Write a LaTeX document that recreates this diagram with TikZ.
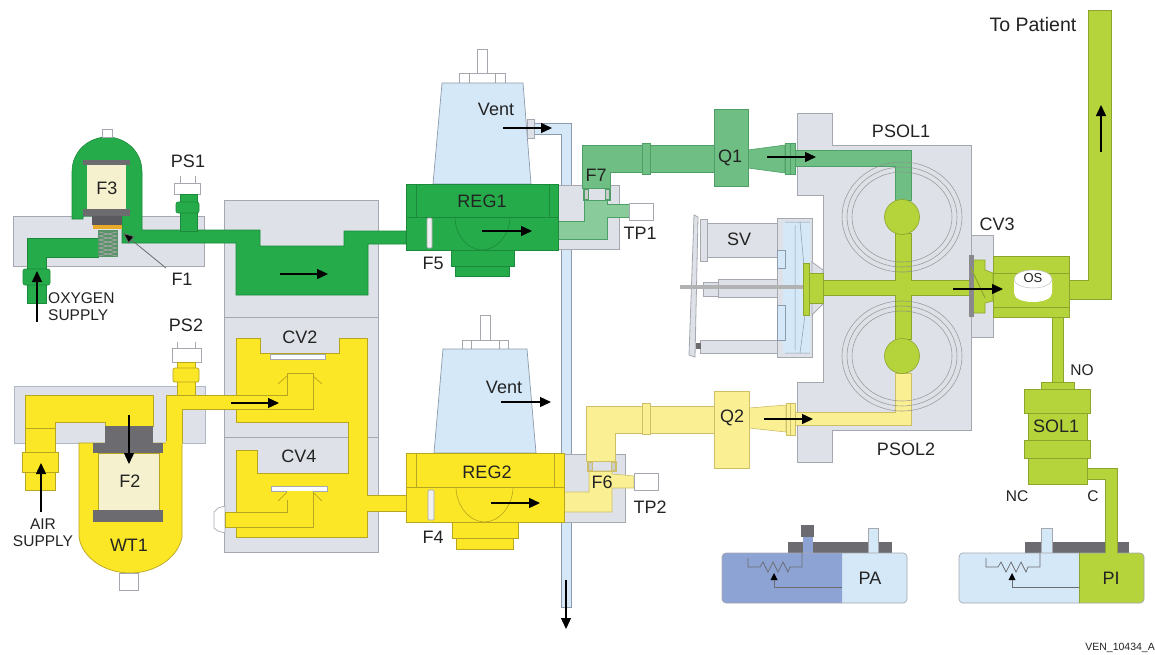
\documentclass[tikz,border=0pt]{standalone}
\usepackage{fontspec}
\setmainfont{Liberation Sans}
\usetikzlibrary{arrows.meta}
\definecolor{grayF}{HTML}{DFE1E8}
\definecolor{grayE}{HTML}{A6A8B0}
\definecolor{gD}{HTML}{25AB4A}
\definecolor{gDE}{HTML}{1B8A3A}
\definecolor{gM}{HTML}{6FBF84}
\definecolor{gME}{HTML}{4E9F66}
\definecolor{gP}{HTML}{8ACB9B}
\definecolor{yS}{HTML}{FBE725}
\definecolor{ySE}{HTML}{B8A520}
\definecolor{yP}{HTML}{FBEF94}
\definecolor{yPE}{HTML}{CDBF6A}
\definecolor{lime}{HTML}{B5D33A}
\definecolor{limeE}{HTML}{8CA52C}
\definecolor{cream}{HTML}{F5F1CF}
\definecolor{blueP}{HTML}{D5E8F7}
\definecolor{blueE}{HTML}{8C9AAC}
\definecolor{blueD}{HTML}{8DA3D4}
\definecolor{darkG}{HTML}{6B6B70}
\definecolor{orangeF}{HTML}{EBA92A}
\definecolor{txt}{HTML}{232323}
\tikzset{
 gr/.style={fill=grayF,draw=grayE,line width=.8pt},
 grn/.style={fill=gD,draw=gDE,line width=.6pt},
 grnm/.style={fill=gM,draw=gME,line width=.6pt},
 grnp/.style={fill=gP,draw=gME,line width=.6pt},
 yel/.style={fill=yS,draw=ySE,line width=.7pt},
 yelp/.style={fill=yP,draw=yPE,line width=.6pt},
 lim/.style={fill=lime,draw=limeE,line width=.6pt},
 dk/.style={fill=darkG,draw=none},
 blu/.style={fill=blueP,draw=blueE,line width=.7pt},
 wht/.style={fill=white,draw=grayE,line width=.7pt},
 flow/.style={line width=1.3pt,black,-{Triangle[length=11pt,width=10pt]}},
 leader/.style={line width=.8pt,draw=darkG,-{Triangle[length=11pt,width=9pt,fill=black]}},
 thin line/.style={line width=.6pt,draw=gray!70},
 pill/.style={fill=gray!12,draw=grayE,line width=.7pt,rounded corners=1pt},
 lab/.style={inner sep=0pt,text=txt,font=\fontsize{18}{18}\selectfont},
 labl/.style={inner sep=0pt,text=txt,font=\fontsize{19.5}{20}\selectfont},
 labm/.style={inner sep=0pt,text=txt,font=\fontsize{15.5}{17}\selectfont,align=center},
 labs/.style={inner sep=0pt,text=txt,font=\fontsize{13}{13}\selectfont},
}
\newcommand{\springzig}[2]{%
 \draw[line width=.7pt,draw=#2,shift={(#1,0)}]
 (748,558) -- (748,567) -- (760,567) -- (763,562) -- (768,572) -- (773,562) -- (778,572) -- (783,562) -- (788,572) -- (790,567) -- (802,567) -- (802,553);
 \draw[line width=.7pt,draw=#2,shift={(#1,0)}] (774,578) -- (774,587);
 \fill[black,shift={(#1,0)}] (774,573) -- (770.5,580) -- (777.5,580) -- cycle;
}
\begin{document}
\begin{tikzpicture}[x=1pt,y=-1pt]
\path[use as bounding box,fill=white] (0,0) rectangle (1155,654);
% ---- gray housings
\draw[gr] (13,216) rectangle (204,266);
\draw[gr] (224,200) rectangle (378,317);
\draw[gr] (224,317) rectangle (378,437);
\draw[gr] (224,437) rectangle (378,552);
\draw[gr,draw=blueE!70] (14,386) rectangle (205,443);
% ---- vent pipe
\draw[blu] (534,123) -- (571,123) -- (571,607) -- (561,607) -- (561,134) -- (534,134) -- cycle;
% ---- oxygen inlet
\draw[grn] (27,238) -- (98,238) -- (98,257) -- (46,257) -- (46,303) -- (27,303) -- cycle;
\draw[grn,rounded corners=2pt] (23,269) rectangle (50,285);
\draw[grn] (72,219) -- (72,172) .. controls (72,150) and (90,137) .. (107,137) .. controls (124,137) and (142,150) .. (142,172) -- (142,230) -- (260,230) -- (260,246) -- (344,246) -- (344,231) -- (406,231) -- (406,244) -- (368,244) -- (368,295) -- (236,295) -- (236,243) -- (122,243) -- (122,216) -- (83,216) -- (83,219) -- cycle;
\draw[wht] (102,129) rectangle (112,137);
\fill[cream] (87,165) rectangle (126,209);
\draw[dk] (83,160) rectangle (130,165);
\draw[dk] (83,209) rectangle (130,216);
\fill[darkG!85!black] (92,216) rectangle (122,225);
\fill[orangeF] (93,225) rectangle (122,229);
\fill[gray!55!gD] (98,230) rectangle (118,257);
\draw[line width=.7pt,gray!70] (99,232) -- (117,236) -- (99,240) -- (117,244) -- (99,248) -- (117,252) -- (99,256);
\draw[line width=.7pt,gray!70] (117,232) -- (99,236) -- (117,240) -- (99,244) -- (117,248) -- (99,252) -- (117,256);
% PS1
\draw[wht] (180,176) -- (180,183) (195,176) -- (195,183);
\draw[wht] (174,183) rectangle (200,194);
\draw[grn] (180,194) rectangle (197,231);
\draw[grn,rounded corners=2pt] (176,202) rectangle (199,213);
% ---- air inlet
\draw[yel] (25,395) -- (153,395) -- (153,426) -- (105,426) -- (105,422) -- (55,422) -- (55,490) -- (25,490) -- cycle;
\draw[ySE,line width=.6pt] (25,428) -- (55,428);
\draw[yel] (22,452) rectangle (58,472);
\draw[yel] (79,443) -- (79,537) .. controls (82,558) and (105,573) .. (130,573) .. controls (155,573) and (178,558) .. (182,537) -- (182,443) -- cycle;
\draw[wht] (119,573) rectangle (138,590);
\fill[cream] (98,453) rectangle (159,510);
\draw[ySE,line width=.5pt] (98,453) rectangle (159,510);
\fill[darkG] (105,426) rectangle (153,443);
\fill[darkG] (93,443) rectangle (163,453);
\fill[darkG] (93,510) rectangle (163,522);
% CV chambers
\draw[yel] (236,338) -- (260,338) -- (260,353) -- (339,353) -- (339,338) -- (367,338) -- (367,495) -- (406,495) -- (406,511) -- (367,511) -- (367,537) -- (236,537) -- (236,450) -- (257,450) -- (257,473) -- (348,473) -- (348,422) -- (236,422) -- cycle;
\draw[wht] (270,354) rectangle (325,359);
\draw[wht] (271,486) rectangle (327,491);
\draw[yel] (166,443) -- (166,395) -- (287,395) -- (287,373) -- (313,373) -- (313,409) -- (182,409) -- (182,443);
\fill[yS] (166.4,441) rectangle (181.6,445);
\draw[ySE,line width=.7pt] (287,376) -- (278,384) (313,376) -- (322,384);
\draw[grayE,line width=.7pt,fill=white] (225,506) -- (218,508) -- (214,512) -- (214,528) -- (218,531) -- (225,533) -- cycle;
\draw[yel] (287,492) -- (287,512) -- (225,512) -- (225,527) -- (313,527) -- (313,492);
\fill[yS] (287.4,491) rectangle (312.6,500);
\draw[ySE,line width=.7pt] (287,492) -- (278,501) (313,492) -- (322,501);
% PS2
\draw[wht] (177,342) -- (177,348) (195,342) -- (195,348);
\draw[wht] (172,348) rectangle (201,362);
\draw[yel] (177,362) rectangle (195,395);
\draw[yel,rounded corners=2pt] (173,368) rectangle (199,382);
% ---- F7 box & REG1
\draw[gr] (558,185) rectangle (619,249);
\draw[grnp] (558,221) -- (584,221) -- (584,200) -- (607,200) -- (607,204) -- (629,204) -- (629,217) -- (607,217) -- (607,239) -- (558,239) -- cycle;
\draw[grnm] (582,145) -- (714,145) -- (714,172) -- (610,172) -- (610,188) -- (582,188) -- cycle;
\fill[grayF] (584,190) rectangle (609,198);
\draw[gME,line width=.7pt] (583,188) rectangle (610,200);
\draw[gME,line width=.7pt,fill=gray!40] (584,189) rectangle (588,199) (605,189) rectangle (609,199);
\draw[wht] (629,203) rectangle (653,220);
\draw[grnm] (642,143) rectangle (650,174);
\draw[wht] (459,73) rectangle (505,83);
\draw[thin line] (469,73) -- (469,83) (495,73) -- (495,83);
\draw[wht] (477,49) rectangle (487,73);
\draw[blu] (442,83) -- (523,83) -- (531,184) -- (433,184) -- cycle;
\draw[gr] (527,119) rectangle (534,138);
\draw[grn] (451,250) rectangle (514,266);
\draw[grn] (455,266) rectangle (509,276);
\draw[grn] (406,184) rectangle (558,250);
\draw[gDE,line width=.6pt] (406,217) -- (558,217) (416,184) -- (416,217) (549,184) -- (549,217);
\draw[gDE,line width=.6pt] (455,217) .. controls (455,235) and (468,250) .. (482,250) .. controls (496,250) and (510,235) .. (510,217);
\draw[pill] (427,218) rectangle (432,248);
% ---- F6 box & REG2
\draw[gr] (564,454) rectangle (625,522);
\draw[yelp] (564,492) -- (589,492) -- (589,471) -- (612,471) -- (612,474) -- (634,476) -- (634,488) -- (612,488) -- (612,512) -- (564,512) -- cycle;
\draw[yelp] (586,406) -- (714,406) -- (714,433) -- (615,433) -- (615,461) -- (586,461) -- cycle;
\fill[grayF] (589,463) rectangle (614,469);
\draw[yPE,line width=.7pt] (587,461) rectangle (616,471);
\draw[yPE,line width=.7pt,fill=gray!40] (588,462) rectangle (592,470) (611,462) rectangle (615,470);
\draw[wht] (634,473) rectangle (658,490);
\draw[yelp] (642,403) rectangle (650,434);
\draw[wht] (462,340) rectangle (508,349);
\draw[thin line] (471,340) -- (471,349) (499,340) -- (499,349);
\draw[wht] (480,315) rectangle (490,340);
\draw[blu] (443,349) -- (527,349) -- (536,453) -- (434,453) -- cycle;
\draw[yel] (452,522) rectangle (518,538);
\draw[yel] (456,538) rectangle (513,549);
\draw[yel] (406,453) rectangle (564,522);
\draw[ySE,line width=.6pt] (406,487) -- (564,487) (416,453) -- (416,487) (554,453) -- (554,487);
\draw[ySE,line width=.6pt] (456,487) .. controls (456,506) and (470,522) .. (484.5,522) .. controls (499,522) and (513,506) .. (513,487);
\draw[pill] (428,490) rectangle (434,520);
% ---- PSOL block
\draw[gr] (797,113) -- (832,113) -- (832,145) -- (971,145) -- (971,430) -- (832,430) -- (832,462) -- (797,462) -- (797,382) -- (823,382) -- (823,195) -- (797,195) -- cycle;
\draw[gr] (971,235) rectangle (993,337);
% Q1 line
\draw[grnm] (748,150) -- (785,145) -- (785,173) -- (748,168) -- cycle;
\draw[grnm] (785,143) rectangle (795,174);
\draw[gME,line width=.5pt] (790,143) -- (790,174);
\draw[grnm] (795,150) -- (911,150) -- (911,200) -- (895,200) -- (895,166) -- (795,166) -- cycle;
\draw[grnm,fill=gM] (714,109) rectangle (748,186);
% Q2 line
\draw[yelp] (749,408) -- (786,405) -- (786,432) -- (749,428) -- cycle;
\draw[yelp] (786,403) rectangle (795,435);
\draw[yPE,line width=.5pt] (790,403) -- (790,435);
\draw[yelp] (795,412) -- (895,412) -- (895,373) -- (911,373) -- (911,425) -- (795,425) -- cycle;
\draw[yelp] (714,391) rectangle (749,468);
% lime manifold
\draw[lim] (895,233) -- (911,233) -- (911,280) -- (971,280) -- (971,295) -- (911,295) -- (911,339) -- (895,339) -- (895,295) -- (823,295) -- (823,280) -- (895,280) -- cycle;
\draw[lim] (902,217) circle [radius=17.5];
\draw[lim] (902,356) circle [radius=17.5];
\foreach \rx/\ry in {60/55,55/50,50/45}{
 \draw[gray!90,line width=.6pt,opacity=.8] (902,217) ellipse [x radius=\rx,y radius=\ry];
 \draw[gray!90,line width=.6pt,opacity=.8] (902,356) ellipse [x radius=\rx,y radius=\ry];
}
% ---- SV
\draw[gr] (694,215) -- (698,217) -- (695,357) -- (689,355) -- cycle;
\draw[gr] (702,223) rectangle (777,257);
\draw[gr] (700,219) rectangle (707,261);
\draw[gr] (700,340) rectangle (777,353);
\fill[darkG] (696,343) rectangle (701,349);
\draw[gr] (703,282) rectangle (780,296);
\draw[gr] (718,279) rectangle (778,297);
\draw[gr] (777,218) rectangle (812,357);
\fill[blueP] (783,222) rectangle (810,353);
\draw[blu] (777,250) rectangle (785,268);
\draw[blu] (777,305) rectangle (785,340);
\draw[blueE,line width=.5pt] (800,222) -- (807,300) -- (800,353) (785,222) -- (810,222) (785,353) -- (810,353) (795,225) -- (795,350);
\fill[gray!60] (680,285) rectangle (807,289);
\draw[gr,fill=grayF] (812,262) -- (823,270) -- (823,304) -- (812,315) -- cycle;
\draw[lim] (803,263) rectangle (809,315);
\draw[lim] (809,273) rectangle (823,303);
% ---- CV3, OS, outlet
\draw[lim] (1069,280) -- (1088,280) -- (1088,10) -- (1111,10) -- (1111,299) -- (1069,299) -- cycle;
\draw[lim] (993,256) rectangle (1069,317);
\draw[limeE,line width=.6pt] (993,273) -- (1069,273) (993,307) -- (1069,307);
\draw[lim] (971,280) -- (974,260) -- (985,260) -- (985,270) -- (993,273) -- (993,301) -- (985,303) -- (985,313) -- (974,313) -- (971,295) -- cycle;
\fill[darkG!80] (969,255) rectangle (974,317);
\draw[limeE,line width=1pt] (971,268) -- (985,298);
\fill[white] (1014,279) -- (1014,293) .. controls (1014,305) and (1052,305) .. (1052,293) -- (1052,279) -- cycle;
\draw[fill=white,draw=gray!50,line width=.5pt] (1033,279) ellipse [x radius=19,y radius=9];
% SOL1
\draw[lim] (1052,317) rectangle (1063,382);
\draw[lim] (1041,382) rectangle (1074,389);
\draw[lim] (1087,468) -- (1117,468) -- (1117,553) -- (1105,553) -- (1105,479) -- (1087,479) -- cycle;
\draw[lim] (1028,413) rectangle (1087,440);
\draw[lim] (1028,458) rectangle (1087,484);
\draw[lim] (1024,389) rectangle (1090,413);
\draw[lim] (1024,440) rectangle (1090,458);
% ---- PA
\draw[dk] (788,542) rectangle (892,553);
\fill[darkG] (801,525) rectangle (814,537);
\fill[blueD] (803,537) rectangle (813,554);
\draw[wht,fill=blueP] (868,528) rectangle (878,553);
\fill[blueP,rounded corners=4pt] (722,553) rectangle (907,603);
\begin{scope}
\clip (842,550) rectangle (700,610);
\fill[blueD,rounded corners=4pt] (722,553) rectangle (907,603);
\end{scope}
\draw[grayE,line width=.7pt,rounded corners=4pt] (722,553) rectangle (907,603);
\springzig{0}{darkG}
\draw[line width=.7pt,draw=darkG] (774,587) -- (842,587);
% ---- PI
\draw[dk] (1025,542) rectangle (1129,553);
\draw[wht,fill=blueP] (1041,528) rectangle (1052,553);
\fill[blueP,rounded corners=4pt] (959,553) rectangle (1144,603);
\begin{scope}
\clip (1079,550) rectangle (1160,610);
\fill[lime,rounded corners=4pt] (959,553) rectangle (1144,603);
\end{scope}
\draw[grayE,line width=.7pt,rounded corners=4pt] (959,553) rectangle (1144,603);
\draw[limeE,line width=.7pt] (1079,553) -- (1079,603);
\fill[lime] (1105.3,540) rectangle (1116.7,556);
\draw[limeE,line width=.6pt] (1105,540) -- (1105,553) (1117,540) -- (1117,553);
\springzig{238}{darkG}
\draw[line width=.7pt,draw=darkG] (1012,587) -- (1079,587);
% ---- flow arrows
\draw[flow] (37,322) -- (37,271);
\draw[flow] (280,274) -- (328,274);
\draw[flow] (129,415) -- (129,464);
\draw[flow] (41,512) -- (41,463);
\draw[flow] (231,403) -- (279,403);
\draw[flow] (503,128) -- (552,128);
\draw[flow] (482,231) -- (532,231);
\draw[flow] (501,402) -- (551,402);
\draw[flow] (491,503) -- (540,503);
\draw[flow] (566,580) -- (566,629);
\draw[flow] (767,157) -- (816,157);
\draw[flow] (764,419) -- (813,419);
\draw[flow] (953,289) -- (1003,289);
\draw[flow] (1101,152) -- (1101,105);
% ---- labels
\node[lab] (lF3) at (107,188) {F3};
\node[lab] (lPS1) at (188,161) {PS1};
\node[lab] (lF1) at (182,279) {F1};
\coordinate (tF1) at (123,233);
\coordinate (sF1) at (166,268);
\draw[leader] (sF1) -- (tF1);
\node[labm,align=left,anchor=west] (lOX) at (48,307) {OXYGEN\\SUPPLY};
\node[lab] (lPS2) at (186,325) {PS2};
\node[lab] (lF2) at (130,481) {F2};
\node[lab] (lWT1) at (129,545) {WT1};
\node[labm] (lAIR) at (43,532.5) {AIR\\SUPPLY};
\node[lab] (lCV2) at (300,337) {CV2};
\node[lab] (lCV4) at (299,456) {CV4};
\node[lab] (lV1) at (496,109) {Vent};
\node[lab] (lV2) at (504,387) {Vent};
\node[lab] (lR1) at (482,201) {REG1};
\node[lab] (lR2) at (487,472) {REG2};
\node[lab] (lF5) at (433,263) {F5};
\node[lab] (lF4) at (433,537) {F4};
\node[lab] (lF7) at (596,175) {F7};
\node[lab] (lF6) at (602,482) {F6};
\node[lab] (lTP1) at (640,233) {TP1};
\node[lab] (lTP2) at (650,507) {TP2};
\node[lab] (lQ1) at (730,158) {Q1};
\node[lab] (lQ2) at (732,418) {Q2};
\node[lab] (lP1) at (901,131) {PSOL1};
\node[lab] (lP2) at (906,449) {PSOL2};
\node[lab] (lSV) at (739,239) {SV};
\node[lab] (lCV3) at (997,224) {CV3};
\node[labs] (lOS) at (1033,278) {OS};
\node[labl] (lTo) at (1033,25) {To Patient};
\node[labm] (lNO) at (1082,370) {NO};
\node[labm] (lNC) at (1017,496) {NC};
\node[labm] (lC) at (1093,496) {C};
\node[lab] (lSOL) at (1056,426) {SOL1};
\node[lab] (lPA) at (870,578) {PA};
\node[lab] (lPI) at (1111,578) {PI};
\node[inner sep=0pt,text=txt,font=\fontsize{10.5}{11}\selectfont,anchor=east] (lVEN) at (1155,648) {VEN\_10434\_A};
\end{tikzpicture}
\end{document}
